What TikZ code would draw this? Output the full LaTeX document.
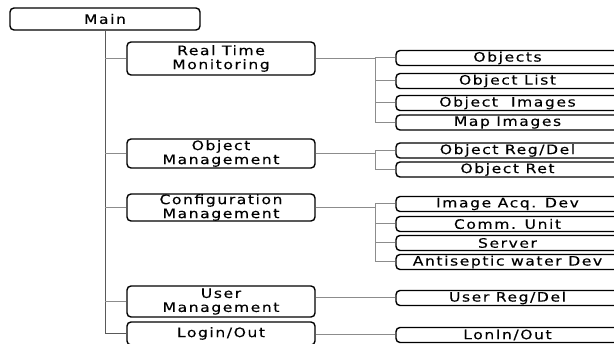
\documentclass[tikz,border=0pt]{standalone}
\usepackage{fontspec}
\setmainfont{DejaVu Sans}[FakeStretch=1.2,LetterSpace=12,FakeBold=0.25]

\begin{document}
\begin{tikzpicture}
[x=1pt,y=-1pt,
  boxDecorate/.style={shape=rectangle,rounded corners=4pt,draw,line width=1.4pt,inner sep=0pt,align=center,font=\fontsize{13}{14}\selectfont},
  menuDecorate/.style={boxDecorate,minimum width=188pt},
  itemDecorate/.style={boxDecorate,minimum width=223pt,minimum height=15pt},
  trunkDecorate/.style={draw=black!65,line width=1pt},
  lineDecorate/.style={draw=black!45,line width=1pt}]
\useasboundingbox (0,0) rectangle (614,344);
\clip (0,0) rectangle (614,344);
%% root
\node (main) at (105,19) [boxDecorate,minimum width=190pt,minimum height=22pt] {Main};
%% menus
\foreach \nodename/\y/\h/\nodetext in {
  rtm/58.5/33/{Real Time\\Monitoring}, om/153.5/29/{Object\\Management},
  cm/207.5/27/{Configuration\\Management}, um/301.5/31/{User\\Management},
  lio/333.5/23/{Login/Out}}
{
  \node (\nodename) at (221,\y) [menuDecorate,minimum height=\h pt] {\nodetext};
}
%% items
\foreach \nodename/\y/\nodetext in {
  obj/58/Objects, objlist/81/{Object List}, objimg/103/{Object\ \ Images},
  mapimg/122.5/{Map Images}, objreg/150.5/{Object Reg/Del}, objret/169.5/{Object Ret},
  imgacq/204/{Image Acq. Dev}, comm/224/{Comm. Unit}, server/243/Server,
  antisep/262/{Antiseptic water Dev}, userreg/298/{User Reg/Del}, lonin/335/{LonIn/Out}}
{
  \node (\nodename) at (507.5,\y) [itemDecorate] {\nodetext};
}
%% trunk
\draw[trunkDecorate] (main.south) -- (main.south |- lio.west) -- (lio.west);
\foreach \child in {rtm,om,cm,um}
{
  \draw[lineDecorate] (main.south |- \child.west) -- (\child.west);
}
%% branches
\foreach \parent/\child in {
  rtm/obj, rtm/objlist, rtm/objimg, rtm/mapimg, om/objreg, om/objret,
  cm/imgacq, cm/comm, cm/server, cm/antisep}
{
  \draw[lineDecorate] (\parent.east) -- ++(60,0) |- (\child.west);
}
\foreach \parent/\child in {um/userreg, lio/lonin}
{
  \draw[lineDecorate] (\child.west -| \parent.east) -- (\child.west);
}
\end{tikzpicture}
\end{document}
